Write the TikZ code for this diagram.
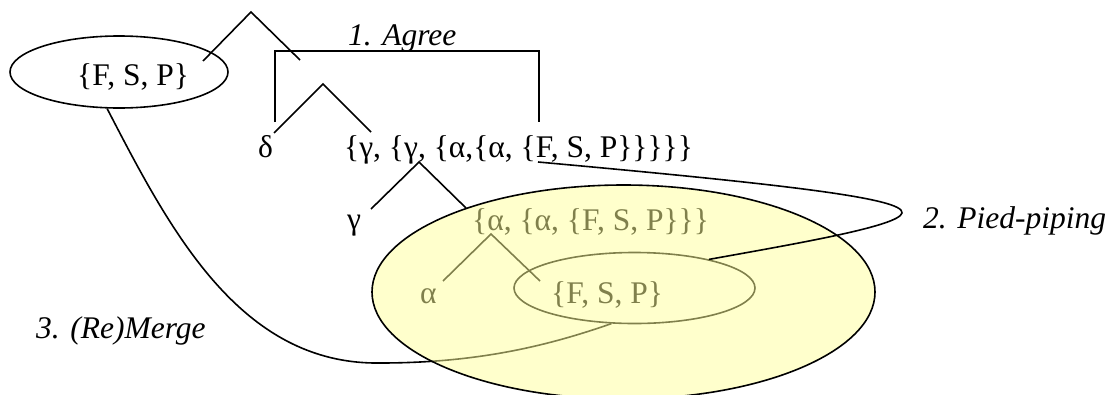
\documentclass[tikz,border=0pt]{standalone}
\usepackage{fontspec}
\setmainfont{Liberation Serif}
\usetikzlibrary{shapes.geometric}
\definecolor{hlyellow}{HTML}{FFFF99}
\tikzset{
  lbl/.style  = {anchor=base west, inner sep=0pt, font=\fontsize{31.5}{38}\selectfont},
  stp/.style  = {lbl, font=\fontsize{31.5}{38}\selectfont\itshape},
  br/.style   = {line width=1.6pt},
  crv/.style  = {line width=1.6pt},
  ell/.style  = {ellipse, draw, line width=1.6pt, inner sep=0pt},
  hl/.style   = {fill=hlyellow, fill opacity=0.5, draw=black, line width=1.6pt},
}

\begin{document}
\begin{tikzpicture}[x=1pt,y=-1pt]
  \useasboundingbox (0,0) rectangle (1110,394);
  \clip (0,0) rectangle (1110,394);
  % remerged bundle
  \node[ell, minimum width=218pt, minimum height=72pt] (fsp) at (119,72) {};
  \node[lbl] (fspt) at (77,85) {\{F, S, P\}};
  \coordinate (t1) at (251,12);
  \coordinate (t1l) at (203,61);
  \coordinate (t1r) at (300,60);
  \draw[br] (t1l) -- (t1) -- (t1r);
  % agree
  \node[stp] (agree) at (348,45) {1. Agree};
  \coordinate (agl) at (275,122);
  \coordinate (agc) at (275,51);
  \coordinate (agr) at (539,122);
  \draw[br] (agl) -- (agc) -| (agr);
  % delta level
  \coordinate (t2) at (323,84);
  \coordinate (t2l) at (274,133);
  \coordinate (t2r) at (371,132);
  \draw[br] (t2l) -- (t2) -- (t2r);
  \node[lbl] (d) at (258,157) {δ};
  \node[lbl] (gg) at (344,157) {\{γ, \{γ, \{α,\{α, \{F, S, P\}\}\}\}\}};
  % gamma level
  \coordinate (t3) at (419,162);
  \coordinate (t3l) at (371,209);
  \coordinate (t3r) at (466,208);
  \draw[br] (t3l) -- (t3) -- (t3r);
  \node[lbl] (g) at (347,229) {γ};
  \node[lbl] (aa) at (472,230) {\{α, \{α, \{F, S, P\}\}\}};
  % alpha level
  \coordinate (t4) at (491,234);
  \coordinate (t4l) at (443,281);
  \coordinate (t4r) at (540,281);
  \draw[br] (t4l) -- (t4) -- (t4r);
  \node[lbl] (a) at (420,303) {α};
  \node[ell, minimum width=241pt, minimum height=71pt] (fspin) at (634.5,288) {};
  \node[lbl] (fspint) at (551,303) {\{F, S, P\}};
  % remerge
  \node[stp] (remerge) at (36,338) {3. (Re)Merge};
  \draw[crv] (fsp.-108) .. controls (170,230) and (240,365) .. (380,363)
             .. controls (480,363) and (550,345) .. (fspin.-123);
  % pied-piped phrase
  \path[hl] (623.5,292) ellipse (251.5 and 107);
  \coordinate (pp) at (538,162);
  \node[stp] (pied) at (923,228) {2. Pied-piping};
  \draw[crv] (pp) .. controls (780,184) and (905,198) .. (902,213)
             .. controls (899,226) and (800,243) .. (fspin.21);
\end{tikzpicture}
\end{document}
